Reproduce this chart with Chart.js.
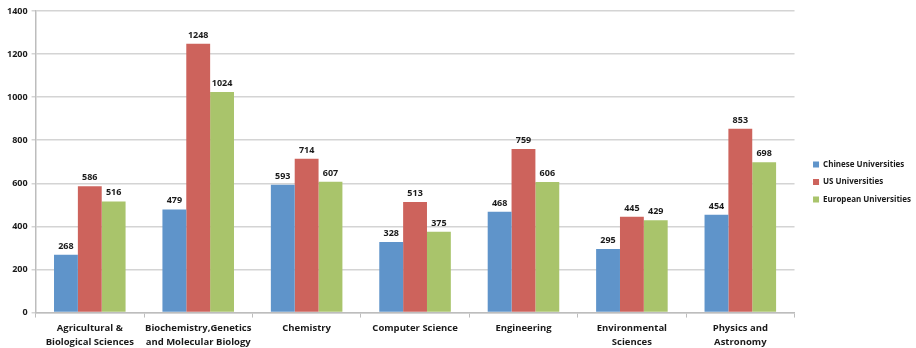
<!DOCTYPE html>
<html>
<head>
<meta charset="utf-8">
<script src="https://cdn.jsdelivr.net/npm/chart.js@4.4.1/dist/chart.umd.min.js"></script>
<style>
  html, body { margin: 0; padding: 0; background: #fff; }
  #wrap { width: 916px; height: 348px; }
</style>
</head>
<body>
<div id="wrap"><canvas id="chart"></canvas></div>
<script>
const categories = [
  ['Agricultural &', 'Biological Sciences'],
  ['Biochemistry,Genetics', 'and Molecular Biology'],
  'Chemistry',
  'Computer Science',
  'Engineering',
  ['Environmental', 'Sciences'],
  ['Physics and', 'Astronomy']
];
const chinese = [268, 479, 593, 328, 468, 295, 454];
const us = [586, 1248, 714, 513, 759, 445, 853];
const european = [516, 1024, 607, 375, 606, 429, 698];
const yTicks = [0, 200, 400, 600, 800, 1000, 1200, 1400];

const FONT = '"Open Sans", sans-serif';

// prints each bar's value above it
const valueLabels = {
  id: 'valueLabels',
  afterDatasetsDraw(chart) {
    const ctx = chart.ctx;
    ctx.save();
    ctx.font = 'bold 9px ' + FONT;
    ctx.fillStyle = '#1a1a1a';
    ctx.textAlign = 'center';
    ctx.textBaseline = 'bottom';
    chart.data.datasets.forEach((ds, i) => {
      chart.getDatasetMeta(i).data.forEach((bar, j) => {
        ctx.fillText(ds.data[j], bar.x, bar.y - 4);
      });
    });
    ctx.restore();
  }
};

new Chart(document.getElementById('chart'), {
  type: 'bar',
  data: {
    labels: categories,
    datasets: [
      { label: 'Chinese Universities', data: chinese, backgroundColor: '#5f94ca' },
      { label: 'US Universities', data: us, backgroundColor: '#cd635c' },
      { label: 'European Universities', data: european, backgroundColor: '#a9c46b' }
    ]
  },
  options: {
    responsive: true,
    maintainAspectRatio: false,
    animation: false,
    layout: { padding: { top: 11, right: -5, left: 3, bottom: -5 } },
    datasets: { bar: { categoryPercentage: 0.66, barPercentage: 1.0 } },
    scales: {
      x: {
        grid: { display: true, drawOnChartArea: false, offset: true, color: '#bdbdbd', tickLength: 5, lineWidth: 1 },
        border: { color: '#bdbdbd', width: 1.5 },
        ticks: {
          autoSkip: false,
          color: '#1a1a1a',
          font: { family: FONT, size: 9.5, weight: 'bold', lineHeight: 1.55 },
          maxRotation: 0,
          padding: 3
        }
      },
      y: {
        min: 0,
        max: 1400,
        afterBuildTicks(axis) { axis.ticks = yTicks.map(v => ({ value: v })); },
        grid: { color: '#d4d4d4', lineWidth: 1.5, drawTicks: true, tickLength: 4 },
        border: { color: '#bdbdbd', width: 1.5 },
        ticks: {
          color: '#1a1a1a',
          font: { family: FONT, size: 9, weight: 'bold' },
          padding: 4,
          callback: v => String(v)
        }
      },
      // empty strip between plot and legend
      gap: {
        position: 'right',
        grid: { display: false },
        border: { display: false },
        ticks: { display: false },
        afterFit(axis) { axis.width = 9; }
      }
    },
    plugins: {
      legend: {
        position: 'right',
        maxHeight: 320,
        labels: {
          boxWidth: 6,
          boxHeight: 6,
          padding: 9.5,
          color: '#1a1a1a',
          font: { family: FONT, size: 8, weight: 'bold' }
        }
      },
      tooltip: { enabled: false }
    }
  },
  plugins: [valueLabels]
});
</script>
</body>
</html>
